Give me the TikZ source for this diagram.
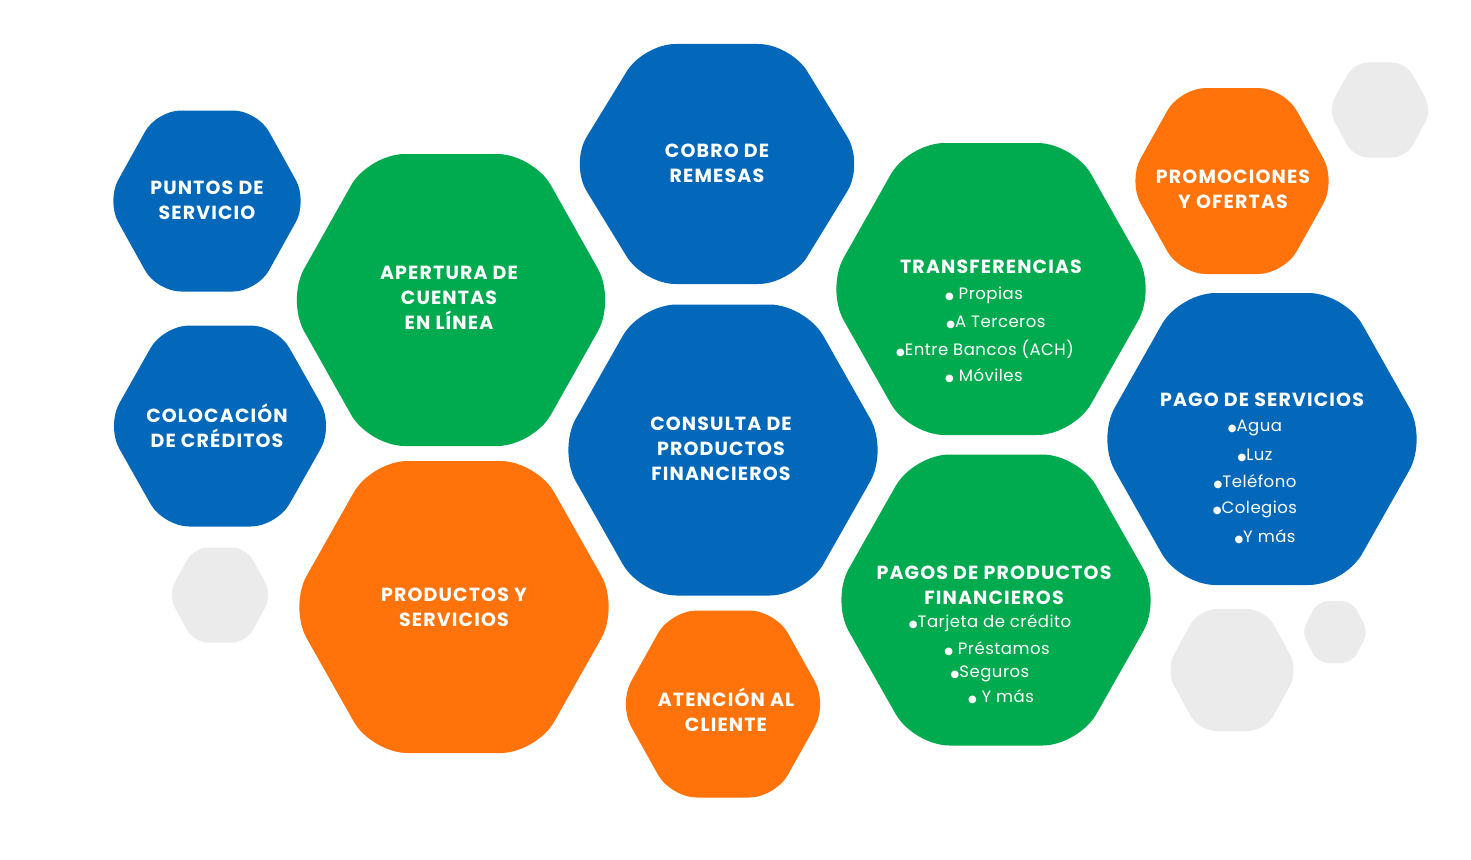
\documentclass[tikz,border=0pt]{standalone}
\usepackage{fontspec}
\setmainfont{Poppins}
\newfontfamily\hd[LetterSpace=6]{Poppins}
\newfontfamily\bt[LetterSpace=3]{Poppins}
\newfontfamily\djvfont{DejaVu Sans}
\definecolor{cblue}{HTML}{0468BA}
\definecolor{cgreen}{HTML}{00AA4E}
\definecolor{corange}{HTML}{FF730A}
\definecolor{cgray}{HTML}{EBEBEB}
\newcommand\hexshape[6]{% cx cy W H color radius
  \fill[#5,rounded corners=#6pt] ({#1-#3/2},#2) -- ({#1-#3/4},{#2-#4/2}) -- ({#1+#3/4},{#2-#4/2}) -- ({#1+#3/2},#2) -- ({#1+#3/4},{#2+#4/2}) -- ({#1-#3/4},{#2+#4/2}) -- cycle;}
\newcommand\bl{{\djvfont\fontsize{10}{12}\selectfont ●}}
\tikzset{hd/.style={text=white,align=center,font=\hd\bfseries\fontsize{19}{25}\selectfont},
 bt/.style={text=white,font=\bt\fontsize{16.5}{20}\selectfont}}
\begin{document}
\begin{tikzpicture}[x=1pt,y=-1pt]
\useasboundingbox (0,0) rectangle (1471,859);
\hexshape{1380}{110}{104}{95}{cgray}{14}
\hexshape{220}{595}{104}{95}{cgray}{14}
\hexshape{1232}{670}{133}{122}{cgray}{18}
\hexshape{1335}{632}{67}{62}{cgray}{10}
\hexshape{207}{201}{201}{181}{cblue}{24}
\hexshape{451}{300}{329}{292}{cgreen}{36}
\hexshape{717}{164}{294}{240}{cblue}{32}
\hexshape{220}{426}{227}{201}{cblue}{26}
\hexshape{723}{450}{330}{291}{cblue}{36}
\hexshape{991}{289}{330}{292}{cgreen}{36}
\hexshape{1232}{181}{208}{186}{corange}{26}
\hexshape{1262}{439}{330}{292}{cblue}{36}
\hexshape{454}{607}{330}{292}{corange}{36}
\hexshape{723}{704}{209}{187}{corange}{26}
\hexshape{996}{600}{330}{291}{cgreen}{36}
\node[hd] (puntos) at (207,200) {PUNTOS DE\\SERVICIO};
\node[hd] (apertura) at (449,298) {APERTURA DE\\CUENTAS\\EN LÍNEA};
\node[hd] (cobro) at (717,163) {COBRO DE\\REMESAS};
\node[hd] (colocacion) at (217,426) {COLOCACIÓN\\DE CRÉDITOS};
\node[hd] (consulta) at (721,449) {CONSULTA DE\\PRODUCTOS\\FINANCIEROS};
\node[hd] (promo) at (1233,189) {PROMOCIONES\\Y OFERTAS};
\node[hd] (prodserv) at (454,607) {PRODUCTOS Y\\SERVICIOS};
\node[hd] (atencion) at (726,710) {ATENCIÓN AL\\CLIENTE};
\node[hd] (transf) at (991,267) {TRANSFERENCIAS};
\node[bt] (t1) at (984,295) {\bl\ Propias};
\node[bt] (t2) at (996,322) {\bl A Terceros};
\node[bt] (t3) at (985,349) {\bl Entre Bancos (ACH)};
\node[bt] (t4) at (984,376) {\bl\ Móviles};
\node[hd] (pagoserv) at (1262,400) {PAGO DE SERVICIOS};
\node[bt] (s1) at (1255,428) {\bl Agua};
\node[bt] (s2) at (1255,455) {\bl Luz};
\node[bt] (s3) at (1255,482) {\bl Teléfono};
\node[bt] (s4) at (1255,509) {\bl Colegios};
\node[bt] (s5) at (1265,537) {\bl Y más};
\node[hd] (pagosprod) at (994,585) {PAGOS DE PRODUCTOS\\FINANCIEROS};
\node[bt] (p1) at (990,623) {\bl Tarjeta de crédito};
\node[bt] (p2) at (997,649) {\bl\ Préstamos};
\node[bt] (p3) at (990,674) {\bl Seguros};
\node[bt] (p4) at (1001,697) {\bl\ Y más};
\end{tikzpicture}
\end{document}
